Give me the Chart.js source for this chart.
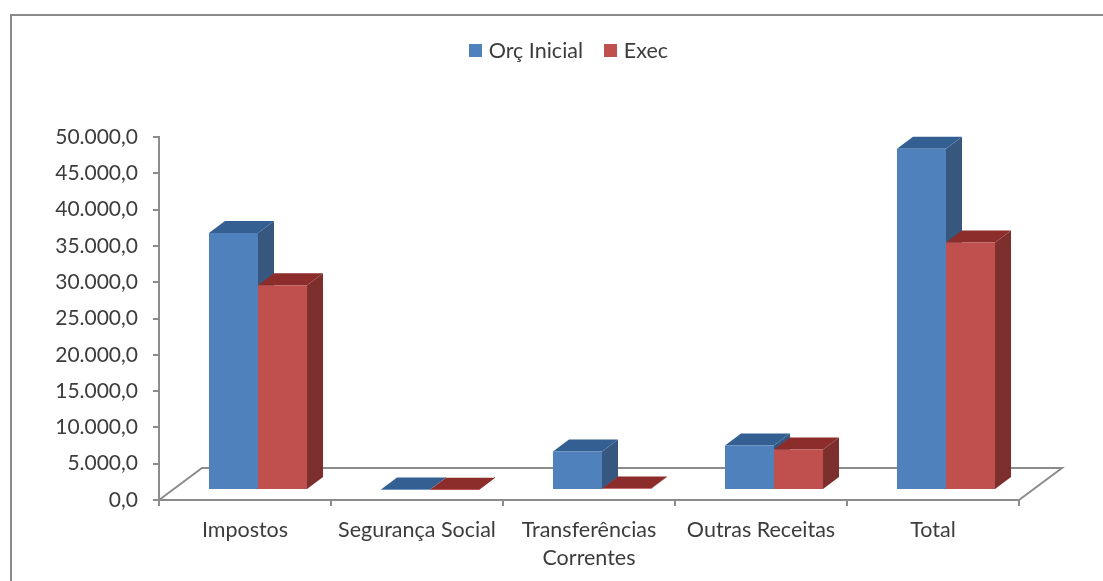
<!DOCTYPE html>
<html>
<head>
<meta charset="utf-8">
<script src="https://cdn.jsdelivr.net/npm/chart.js@4/dist/chart.umd.min.js"></script>
<style>
  html, body { margin: 0; background: #fff; overflow: hidden; }
  #frame { position: absolute; left: 10px; top: 14px; right: 0; bottom: 0; border-left: 2px solid #8a8a8a; border-top: 2px solid #8a8a8a; }
  canvas { position: absolute; left: 0; top: 0; }
</style>
</head>
<body>
<div id="frame"></div>
<canvas id="chart" width="1103" height="581"></canvas>
<script>
const categories = ["Impostos", "Segurança Social", ["Transferências", "Correntes"], "Outras Receitas", "Total"];
const orcInicial = [35400, 60, 5300, 6140, 47000];
const exec = [28200, 40, 200, 5590, 34100];
const yTickLabels = ["0,0", "5.000,0", "10.000,0", "15.000,0", "20.000,0", "25.000,0", "30.000,0", "35.000,0", "40.000,0", "45.000,0", "50.000,0"];

const textColor = "#3c3c3c";
const axisColor = "#8c8c8c";
const fontFamily = "Lato";
const blue = { front: "#4F81BD", side: "#36587f", top: "#335f92" };
const red = { front: "#C0504D", side: "#7d2f2d", top: "#8c2d2b" };

// small square for the legend, the built-in box leaves too wide a gap to the text
function swatch(color) {
  const c = document.createElement("canvas");
  c.width = 13;
  c.height = 13;
  const g = c.getContext("2d");
  g.fillStyle = color;
  g.fillRect(0, 0, 13, 13);
  return c;
}
const swatches = [swatch(blue.front), swatch(red.front)];
const faces = [blue, red];

// depth of the bars and of the floor
const barDepth = { x: 16, y: 12 };
const floorDepth = { x: 43, y: 32 };
const barShift = { x: 13, y: -10 };

const fake3d = {
  id: "fake3d",
  beforeInit(chart) {
    const fit = chart.legend.fit;
    chart.legend.fit = function () {
      fit.call(this);
      this.height = 122;
    };
  },
  afterLayout(chart) {
    // legend is centred over the plot in the original, not over the canvas
    chart.legend.left = 122;
  },
  beforeDatasetsDraw(chart) {
    const ctx = chart.ctx;
    const a = chart.chartArea;
    ctx.save();
    // floor
    ctx.strokeStyle = axisColor;
    ctx.lineWidth = 2;
    ctx.beginPath();
    ctx.moveTo(a.left, a.bottom);
    ctx.lineTo(a.left + floorDepth.x, a.bottom - floorDepth.y);
    ctx.lineTo(a.right + floorDepth.x, a.bottom - floorDepth.y);
    ctx.lineTo(a.right, a.bottom);
    ctx.stroke();
    ctx.translate(barShift.x, barShift.y);
    // side and top faces, blue first so red covers it; the fronts come after from the chart
    faces.forEach((f, i) => {
      chart.getDatasetMeta(i).data.forEach((bar) => {
        const l = bar.x - bar.width / 2;
        const r = bar.x + bar.width / 2;
        ctx.fillStyle = f.side;
        ctx.beginPath();
        ctx.moveTo(r, bar.y);
        ctx.lineTo(r + barDepth.x, bar.y - barDepth.y);
        ctx.lineTo(r + barDepth.x, bar.base - barDepth.y);
        ctx.lineTo(r, bar.base);
        ctx.fill();
        ctx.fillStyle = f.top;
        ctx.beginPath();
        ctx.moveTo(l, bar.y);
        ctx.lineTo(l + barDepth.x, bar.y - barDepth.y);
        ctx.lineTo(r + barDepth.x, bar.y - barDepth.y);
        ctx.lineTo(r, bar.y);
        ctx.fill();
      });
    });
  },
  afterDatasetsDraw(chart) {
    chart.ctx.restore();
  }
};

new Chart(document.getElementById("chart"), {
  type: "bar",
  data: {
    labels: categories,
    datasets: [
      { label: "Orç Inicial", data: orcInicial, backgroundColor: blue.front, clip: false },
      { label: "Exec", data: exec, backgroundColor: red.front, clip: false }
    ]
  },
  plugins: [fake3d],
  options: {
    responsive: false,
    animation: false,
    layout: { autoPadding: false, padding: { top: 15, left: 0, right: 84, bottom: 0 } },
    datasets: { bar: { categoryPercentage: 0.57, barPercentage: 1, borderWidth: 0 } },
    plugins: {
      tooltip: { enabled: false },
      legend: {
        position: "top",
        labels: {
          usePointStyle: true,
          boxWidth: 5,
          boxHeight: 13,
          padding: 25,
          color: textColor,
          font: { family: fontFamily, size: 21.5 },
          generateLabels: (chart) => chart.data.datasets.map((d, i) => ({
            text: d.label,
            pointStyle: swatches[i],
            fontColor: textColor,
            datasetIndex: i
          }))
        }
      }
    },
    scales: {
      x: {
        grid: { drawOnChartArea: false, color: axisColor, tickLength: 6, lineWidth: 2 },
        border: { color: axisColor, width: 2 },
        ticks: { color: textColor, font: { family: fontFamily, size: 21.5, lineHeight: 1.3 }, padding: 10, maxRotation: 0, autoSkip: false },
        afterFit: (s) => { s.height = 81; }
      },
      y: {
        min: 0,
        max: 50000,
        grid: { drawOnChartArea: false, color: axisColor, tickLength: 6, lineWidth: 2 },
        border: { color: axisColor, width: 2 },
        ticks: {
          stepSize: 5000,
          color: textColor,
          font: { family: fontFamily, size: 21 },
          padding: 15,
          callback: (v, i) => yTickLabels[i]
        },
        afterFit: (s) => { s.width = 159; }
      }
    }
  }
});
</script>
</body>
</html>
